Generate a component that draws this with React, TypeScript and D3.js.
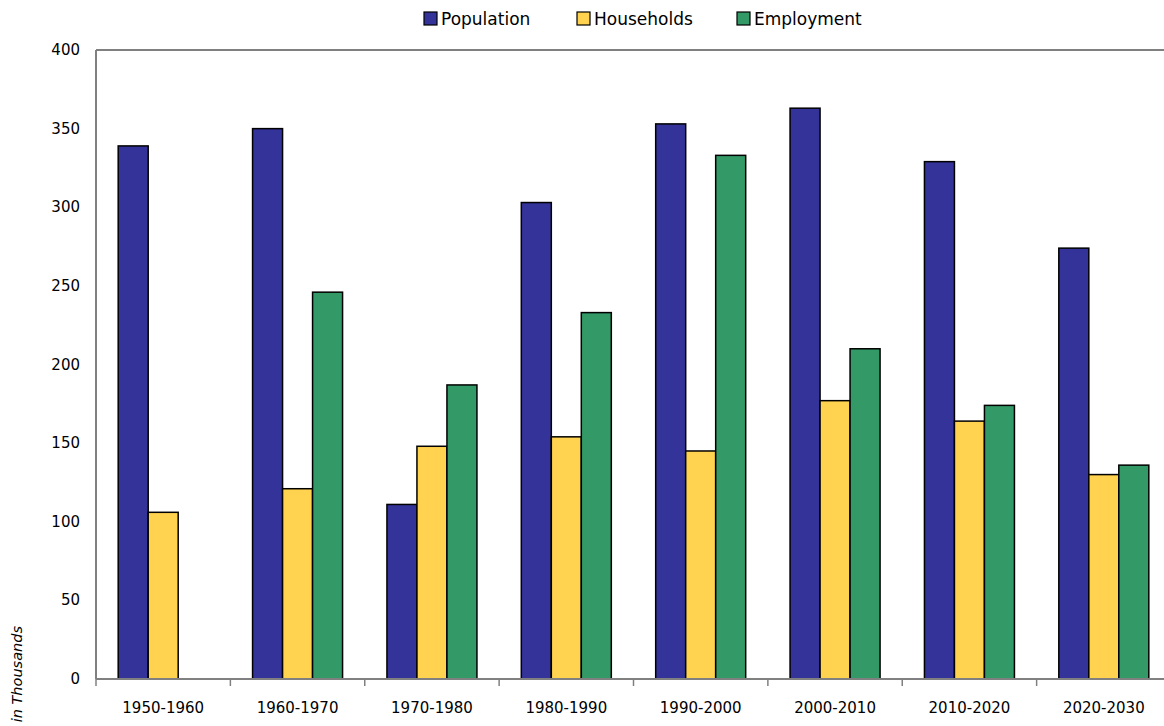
import * as d3 from 'd3';

// Decade categories and change values (in thousands)
const periods = ['1950-1960', '1960-1970', '1970-1980', '1980-1990', '1990-2000', '2000-2010', '2010-2020', '2020-2030'];
const population = [339, 350, 111, 303, 353, 363, 329, 274];
const households = [106, 121, 148, 154, 145, 177, 164, 130];
const employment: (number | null)[] = [null, 246, 187, 233, 333, 210, 174, 136];

const seriesNames = ['Population', 'Households', 'Employment'];
const seriesColors = ['#333399', '#FFD24F', '#339966'];
const yTicks = [0, 50, 100, 150, 200, 250, 300, 350, 400];

const WIDTH = 1164;
const HEIGHT = 726;
const FONT = '"DejaVu Sans", Verdana, sans-serif';

export default function App() {
  const margin = { top: 50, left: 96, right: -7, bottom: 47 };
  const innerW = WIDTH - margin.left - margin.right;
  const innerH = HEIGHT - margin.top - margin.bottom;

  const x = d3.scaleBand<string>().domain(periods).range([0, innerW]);
  const barW = 30;
  const xSub = d3
    .scaleBand<string>()
    .domain(seriesNames)
    .range([(x.bandwidth() - 3 * barW) / 2, (x.bandwidth() + 3 * barW) / 2]);
  const y = d3.scaleLinear().domain([0, 400]).range([innerH, 0]);

  const series = [population, households, employment];

  const legendX = [424, 577, 737];

  return (
    <svg
      width={WIDTH}
      height={HEIGHT}
      style={{ position: 'absolute', left: 0, top: 0, background: '#fff' }}
      fontFamily={FONT}
    >
      {/* Legend */}
      {seriesNames.map((name, i) => (
        <g key={name} transform={`translate(${legendX[i]},12)`}>
          <rect width={13} height={13} fill={seriesColors[i]} stroke="#000" strokeWidth={1.2} />
          <text x={17} y={13} fontSize={17} fill="#000">
            {name}
          </text>
        </g>
      ))}

      <g transform={`translate(${margin.left},${margin.top})`}>
        {/* Plot frame: top line and left axis */}
        <line x1={0} x2={innerW} y1={0} y2={0} stroke="#808080" strokeWidth={2} />
        <line x1={0} x2={0} y1={0} y2={innerH} stroke="#808080" strokeWidth={2} />

        {/* Bars */}
        {periods.map((p, i) => (
          <g key={p} transform={`translate(${x(p)},0)`}>
            {series.map((vals, s) => {
              const v = vals[i];
              if (v == null) return null;
              return (
                <rect
                  key={s}
                  x={xSub(seriesNames[s])}
                  y={y(v)}
                  width={xSub.bandwidth()}
                  height={innerH - y(v)}
                  fill={seriesColors[s]}
                  stroke="#000"
                  strokeWidth={1.5}
                />
              );
            })}
          </g>
        ))}

        {/* X axis */}
        <line x1={0} x2={innerW} y1={innerH} y2={innerH} stroke="#808080" strokeWidth={2} />
        {periods.map((p, i) => (
          <g key={p}>
            <line
              x1={(x(p) ?? 0)}
              x2={(x(p) ?? 0)}
              y1={innerH}
              y2={innerH + 7}
              stroke="#808080"
              strokeWidth={1.5}
            />
            <text
              x={(x(p) ?? 0) + x.bandwidth() / 2}
              y={innerH + 34}
              textAnchor="middle"
              fontSize={15}
              fill="#000"
            >
              {p}
            </text>
            {i === periods.length - 1 && null}
          </g>
        ))}

        {/* Y tick labels */}
        {yTicks.map((t) => (
          <text key={t} x={-16} y={y(t) + 5} textAnchor="end" fontSize={15} fill="#000">
            {t}
          </text>
        ))}
      </g>

      {/* Y axis title (partly outside the frame) */}
      <text
        transform="translate(22,626) rotate(-90)"
        textAnchor="end"
        fontSize={14.5}
        fontStyle="italic"
        fill="#000"
      >
        in Thousands
      </text>
    </svg>
  );
}
